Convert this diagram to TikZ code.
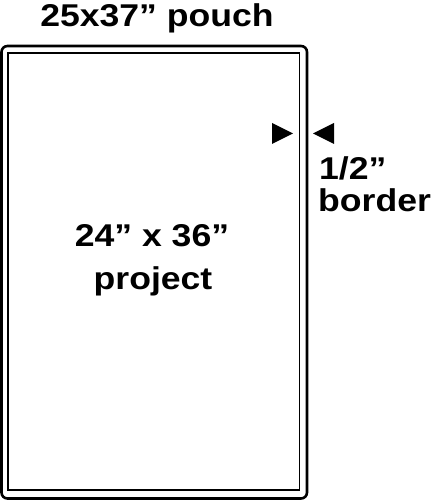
\documentclass[tikz,border=0pt]{standalone}
\usepackage{fontspec}
\setmainfont{Liberation Sans}
\newcommand{\wide}[1]{\scalebox{1.13}[1]{#1}}
\begin{document}
\begin{tikzpicture}[x=1pt,y=1pt,
  lbl/.style={font=\fontsize{31.5}{34}\selectfont\bfseries, inner sep=0pt, anchor=base},
  tri/.style={fill=black, draw=none}]
\useasboundingbox (0,0) rectangle (432,500);
\draw[line width=2.6pt, rounded corners=6pt] (1.5,1.5) rectangle (307,454);
\draw[line width=1.5pt] (8,10) rectangle (299.5,447);
\node[lbl] (title) at (157,473) {\wide{25x37” pouch}};
\node[lbl] (proj1) at (152,253) {\wide{24” x 36”}};
\node[lbl] (proj2) at (153,210) {\wide{project}};
\node[lbl, anchor=base west] (half) at (319,320) {\wide{1/2”}};
\node[lbl, anchor=base west] (border) at (318,288) {\wide{border}};
\fill[tri] (272,377) -- (272,356) -- (293,366.5) -- cycle;
\fill[tri] (334,377) -- (334,356) -- (313,366.5) -- cycle;
\end{tikzpicture}
\end{document}
